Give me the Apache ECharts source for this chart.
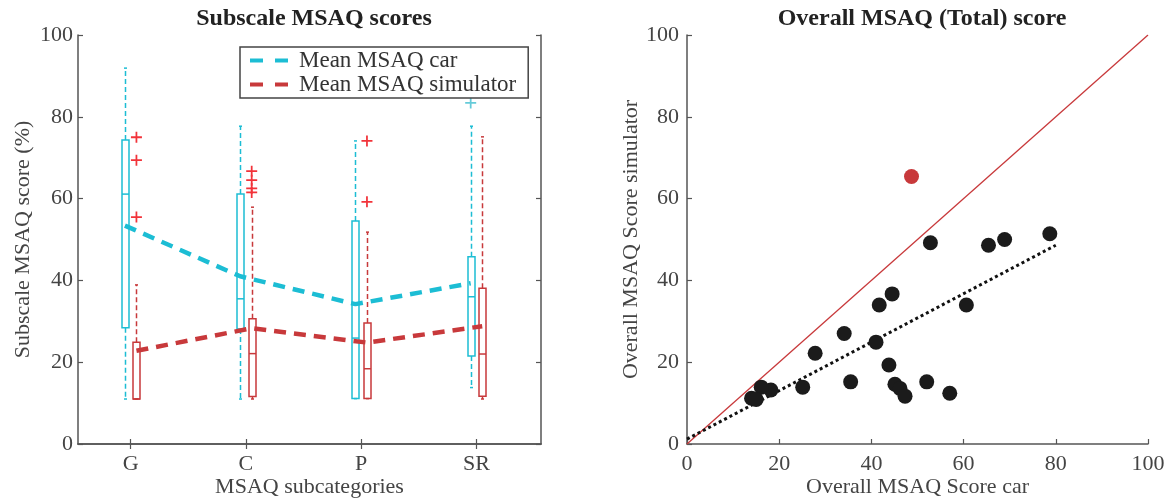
<!DOCTYPE html>
<html><head><meta charset="utf-8">
<script src="https://cdn.jsdelivr.net/npm/echarts@6/dist/echarts.min.js"></script>
<style>html,body{margin:0;padding:0;background:#fff}#c{width:1172px;height:499px}</style>
</head><body><div id="c"></div>
<script>
// ---- data ----
const categories = ['G', 'C', 'P', 'SR'];
// [min, q1, median, q3, max]
const carBoxes = [[11.0, 28.4, 61.1, 74.3, 91.9], [11.0, 28.1, 35.5, 61.1, 77.7], [11.1, 11.1, 25.9, 54.5, 74.1], [13.8, 21.5, 36.0, 45.8, 77.7]];
const simBoxes = [[11.0, 11.0, 11.0, 24.9, 38.9], [11.0, 11.6, 22.1, 30.6, 57.9], [11.1, 11.1, 18.4, 29.6, 51.8], [11.0, 11.7, 22.0, 38.1, 75.1]];
const carOutliers = [[], [], [], [83.4]];
const simOutliers = [[75.0, 69.4, 55.5], [66.7, 64.5, 62.5, 61.5], [74.1, 59.2], []];
const carMeans = [53.4, 41.0, 34.2, 39.3];
const simMeans = [22.8, 28.3, 24.8, 28.8];

const scoreCar = [52.8, 44.5, 41.7, 34.1, 41.0, 27.8, 43.8, 35.5, 52.0, 45.1, 46.2, 47.3, 25.1, 18.2, 16.1, 14.0, 15.0, 65.4, 68.9, 78.7, 60.6, 57.0];
const scoreSim = [49.2, 36.7, 34.0, 27.0, 24.9, 22.2, 19.3, 15.2, 15.2, 14.6, 13.6, 11.7, 13.9, 13.2, 13.9, 11.2, 10.9, 48.6, 50.0, 51.4, 34.0, 12.4];
const outlierCar = [48.7];
const outlierSim = [65.4];
const identityLine = [[0, 0], [100, 100]];
const fitLine = [[0, 1.2], [80, 48.6]];

// ---- styling ----
const FONT = 'Liberation Serif';
const CYAN = '#1cbdd4';
const RED = '#c8393b';
const PLUS_RED = '#f2333a';
const AX = '#555';
const TXT = '#444';
const OFF_CAR = -0.05, OFF_SIM = 0.05;
const plusPath = 'path://M4.2,0h1.6v4.2h4.2v1.6h-4.2v4.2h-1.6v-4.2h-4.2v-1.6h4.2z';

function boxRenderer(offset, color) {
  return function (params, api) {
    const x = api.value(0) + 1 + offset;
    const mn = api.coord([x, api.value(1)]);
    const q1 = api.coord([x, api.value(2)]);
    const md = api.coord([x, api.value(3)]);
    const q3 = api.coord([x, api.value(4)]);
    const mx = api.coord([x, api.value(5)]);
    const cx = Math.round(mn[0]) + 0.5;
    const hw = 3.5;
    const dash = { stroke: color, lineWidth: 1.5, lineDash: [5, 3], fill: null };
    const solid = { stroke: color, lineWidth: 1.5, fill: null };
    return {
      type: 'group',
      children: [
        { type: 'line', shape: { x1: cx, y1: q3[1], x2: cx, y2: mx[1] }, style: dash },
        { type: 'line', shape: { x1: cx, y1: q1[1], x2: cx, y2: mn[1] }, style: dash },
        { type: 'line', shape: { x1: cx - 1.5, y1: mx[1], x2: cx + 1.5, y2: mx[1] }, style: solid },
        { type: 'line', shape: { x1: cx - 1.5, y1: mn[1], x2: cx + 1.5, y2: mn[1] }, style: solid },
        { type: 'rect', shape: { x: cx - hw, y: q3[1], width: hw * 2, height: q1[1] - q3[1] }, style: solid },
        { type: 'line', shape: { x1: cx - hw, y1: md[1], x2: cx + hw, y2: md[1] }, style: solid }
      ]
    };
  };
}

const tickLabel = { fontFamily: FONT, fontSize: 22, color: TXT };
const nameStyle = { fontFamily: FONT, fontSize: 22, color: TXT };
const xMin = 0.543, xMax = 4.56;
const catVals = categories.map((c, i) => i + 1);

const option = {
  animation: false,
  backgroundColor: '#fff',
  title: [
    { text: 'Subscale MSAQ scores', left: 309, top: 2, textAlign: 'center',
      textStyle: { fontFamily: FONT, fontSize: 24, fontWeight: 'bold', color: '#222' } },
    { text: 'Overall MSAQ (Total) score', left: 917, top: 2, textAlign: 'center',
      textStyle: { fontFamily: FONT, fontSize: 24, fontWeight: 'bold', color: '#222' } }
  ],
  legend: {
    data: ['Mean MSAQ car', 'Mean MSAQ simulator'],
    orient: 'vertical',
    left: 240, top: 47,
    padding: [2, 12, 2, 8],
    itemGap: 1,
    itemWidth: 40, itemHeight: 24,
    borderColor: '#444', borderWidth: 1.5,
    backgroundColor: '#fff',
    itemStyle: { opacity: 0 },
    lineStyle: { width: 4, type: [13, 12] },
    textStyle: { fontFamily: FONT, fontSize: 23, color: '#333', padding: [0, 0, 0, 4] }
  },
  grid: [
    { left: 78, top: 35, width: 463, height: 409, outerBoundsMode: 'none', containLabel: false },
    { left: 687, top: 35, width: 461, height: 409, outerBoundsMode: 'none', containLabel: false }
  ],
  xAxis: [
    { type: 'value', gridIndex: 0, min: xMin, max: xMax, position: 'bottom',
      name: 'MSAQ subcategories', nameLocation: 'middle', nameGap: 32, nameMoveOverlap: false, nameTextStyle: nameStyle,
      axisLine: { show: true, lineStyle: { color: AX, width: 1.5 } },
      axisTick: { show: true, inside: true, length: 5, customValues: catVals, lineStyle: { color: AX, width: 1.2 } },
      axisLabel: { show: true, customValues: catVals, formatter: v => categories[Math.round(v) - 1] || '', margin: 9, ...tickLabel },
      splitLine: { show: false } },
    { type: 'value', gridIndex: 0, min: xMin, max: xMax, position: 'top',
      axisLine: { show: true, lineStyle: { color: AX, width: 1.5 } },
      axisTick: { show: true, inside: true, length: 5, customValues: catVals, lineStyle: { color: AX, width: 1.2 } },
      axisLabel: { show: false }, splitLine: { show: false } },
    { type: 'value', gridIndex: 1, min: 0, max: 100, interval: 20, position: 'bottom',
      name: 'Overall MSAQ Score car', nameLocation: 'middle', nameGap: 32, nameMoveOverlap: false, nameTextStyle: nameStyle,
      axisLine: { show: true, lineStyle: { color: AX, width: 1.5 } },
      axisTick: { show: true, inside: true, length: 5, lineStyle: { color: AX, width: 1.2 } },
      axisLabel: { margin: 9, ...tickLabel }, splitLine: { show: false } }
  ],
  yAxis: [
    { type: 'value', gridIndex: 0, min: 0, max: 100, interval: 20, position: 'left',
      name: 'Subscale MSAQ score (%)', nameLocation: 'middle', nameGap: 44, nameMoveOverlap: false, nameTextStyle: nameStyle,
      axisLine: { show: true, lineStyle: { color: AX, width: 1.5 } },
      axisTick: { show: true, inside: true, length: 5, lineStyle: { color: AX, width: 1.2 } },
      axisLabel: { margin: 5, ...tickLabel }, splitLine: { show: false } },
    { type: 'value', gridIndex: 0, min: 0, max: 100, interval: 20, position: 'right',
      axisLine: { show: true, lineStyle: { color: AX, width: 1.5 } },
      axisTick: { show: true, inside: true, length: 5, lineStyle: { color: AX, width: 1.2 } },
      axisLabel: { show: false }, splitLine: { show: false } },
    { type: 'value', gridIndex: 1, min: 0, max: 100, interval: 20, position: 'left',
      name: 'Overall MSAQ Score simulator', nameLocation: 'middle', nameGap: 45, nameMoveOverlap: false, nameTextStyle: nameStyle,
      axisLine: { show: true, lineStyle: { color: AX, width: 1.5 } },
      axisTick: { show: true, inside: true, length: 5, lineStyle: { color: AX, width: 1.2 } },
      axisLabel: { margin: 8, ...tickLabel }, splitLine: { show: false } }
  ],
  series: [
    { type: 'custom', name: 'carBox', xAxisIndex: 0, yAxisIndex: 0, renderItem: boxRenderer(OFF_CAR, CYAN),
      data: carBoxes.map((b, i) => [i, ...b]), encode: { x: 0, y: [1, 2, 3, 4, 5] }, silent: true, z: 2 },
    { type: 'custom', name: 'simBox', xAxisIndex: 0, yAxisIndex: 0, renderItem: boxRenderer(OFF_SIM, RED),
      data: simBoxes.map((b, i) => [i, ...b]), encode: { x: 0, y: [1, 2, 3, 4, 5] }, silent: true, z: 2 },
    { type: 'scatter', name: 'carOut', xAxisIndex: 0, yAxisIndex: 0, symbol: plusPath, symbolSize: 11,
      itemStyle: { color: '#66cbd9', opacity: 1 }, data: carOutliers.flatMap((a, i) => a.map(v => [i + 1 + OFF_CAR, v])), z: 3 },
    { type: 'scatter', name: 'simOut', xAxisIndex: 0, yAxisIndex: 0, symbol: plusPath, symbolSize: 11,
      itemStyle: { color: PLUS_RED, opacity: 1 }, data: simOutliers.flatMap((a, i) => a.map(v => [i + 1 + OFF_SIM, v])), z: 3 },
    { type: 'line', name: 'Mean MSAQ car', xAxisIndex: 0, yAxisIndex: 0, symbol: 'none',
      lineStyle: { color: CYAN, width: 4.5, type: [12, 8] }, itemStyle: { color: CYAN },
      data: carMeans.map((v, i) => [i + 1 + OFF_CAR, v]), z: 4 },
    { type: 'line', name: 'Mean MSAQ simulator', xAxisIndex: 0, yAxisIndex: 0, symbol: 'none',
      lineStyle: { color: RED, width: 4.5, type: [12, 8] }, itemStyle: { color: RED },
      data: simMeans.map((v, i) => [i + 1 + OFF_SIM, v]), z: 4 },
    { type: 'line', name: 'identity', xAxisIndex: 2, yAxisIndex: 2, symbol: 'none',
      lineStyle: { color: RED, width: 1.3 }, data: identityLine, z: 2 },
    { type: 'line', name: 'fit', xAxisIndex: 2, yAxisIndex: 2, symbol: 'none',
      lineStyle: { color: '#111', width: 3, type: [3, 3] }, data: fitLine, z: 2 },
    { type: 'scatter', name: 'scores', xAxisIndex: 2, yAxisIndex: 2, symbolSize: 15,
      itemStyle: { color: '#1b1b1b', opacity: 1 }, data: scoreCar.map((v, i) => [v, scoreSim[i]]), z: 3 },
    { type: 'scatter', name: 'outlier', xAxisIndex: 2, yAxisIndex: 2, symbolSize: 15,
      itemStyle: { color: RED, opacity: 1 }, data: outlierCar.map((v, i) => [v, outlierSim[i]]), z: 3 }
  ]
};
const chart = echarts.init(document.getElementById('c'), null, { renderer: 'canvas' });
chart.setOption(option);
</script></body></html>
